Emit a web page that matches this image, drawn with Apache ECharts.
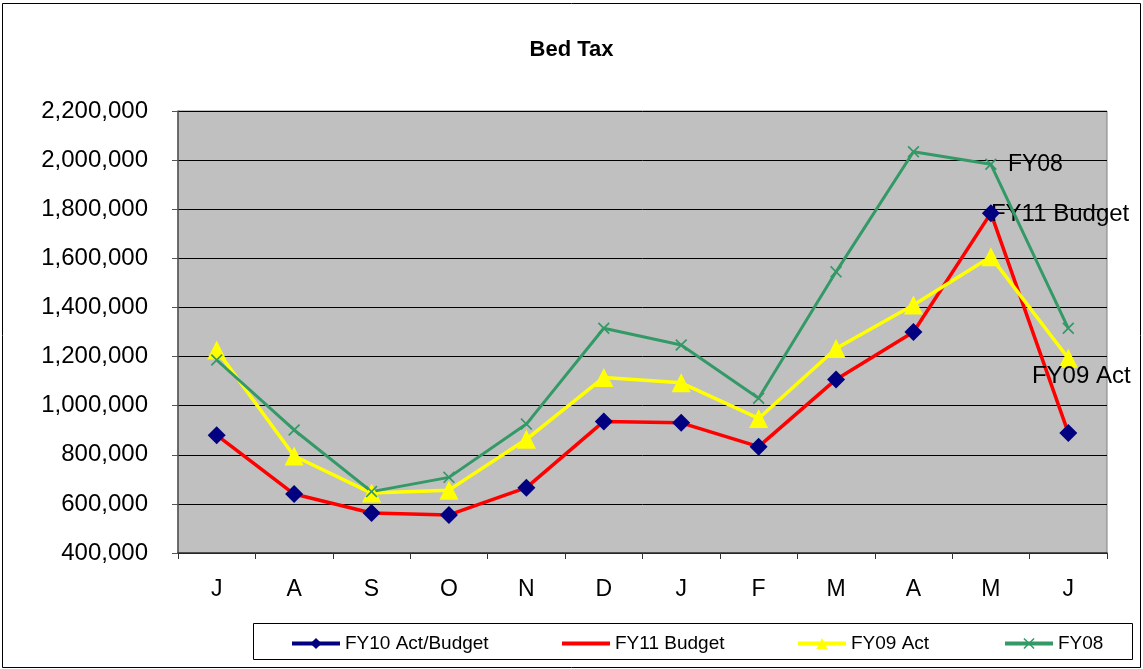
<!DOCTYPE html>
<html>
<head>
<meta charset="utf-8">
<script src="https://cdn.jsdelivr.net/npm/echarts@6/dist/echarts.min.js"></script>
<style>
  html, body { margin: 0; padding: 0; background: #fff; }
  #chart { width: 1143px; height: 669px; }
</style>
</head>
<body>
<div id="chart"></div>
<script>
'use strict';

// month labels, July through June
var months = ['J', 'A', 'S', 'O', 'N', 'D', 'J', 'F', 'M', 'A', 'M', 'J'];

var fy10Act = [880000, 640000, 563000, 555000, 666000, 936000, 930000, 833000, 1107000, 1300000, 1784000, 889000];
var fy11Budget = [880000, 640000, 563000, 555000, 666000, 936000, 930000, 833000, 1107000, 1300000, 1784000, 889000];
var fy09Act = [1227000, 795000, 644000, 656000, 863000, 1115000, 1093000, 948000, 1233000, 1410000, 1606000, 1193000];
var fy08 = [1186000, 901000, 650000, 708000, 925000, 1315000, 1247000, 1030000, 1545000, 2034000, 1983000, 1315000];

var yTicks = { min: 400000, max: 2200000, step: 200000 };

var FONT = '"Liberation Sans", Arial, sans-serif';
var crossPath = 'path://M0,1L1,0L5,4L9,0L10,1L6,5L10,9L9,10L5,6L1,10L0,9L4,5Z';

// put the series name as a label on one point only
function withLabel(values, idx, label) {
  return values.map(function (v, i) {
    if (i !== idx) return v;
    return { value: v, label: label };
  });
}

var myChart = echarts.init(document.getElementById('chart'));

function legendAt(name, left, extra) {
  var l = {
    data: [Object.assign({ name: name }, extra || {})],
    left: left,
    top: 634,
    padding: 0,
    itemWidth: 48,
    itemHeight: 14,
    selectedMode: false,
    textStyle: { fontFamily: FONT, fontSize: 19, color: '#000' }
  };
  return l;
}

var option = {
  backgroundColor: '#fff',
  animation: false,
  title: {
    text: 'Bed Tax',
    left: 'center',
    top: 34,
    textStyle: { fontFamily: FONT, fontSize: 22, fontWeight: 'bold', color: '#000' }
  },
  graphic: [
    { type: 'rect', shape: { x: 2.5, y: 3.5, width: 1138, height: 664 },
      style: { fill: 'none', stroke: '#000', lineWidth: 1 }, z: -1 },
    { type: 'rect', shape: { x: 253.5, y: 623.5, width: 879, height: 36 },
      style: { fill: 'none', stroke: '#000', lineWidth: 1 }, z: -1 }
  ],
  legend: [
    legendAt('FY10 Act/Budget', 290, { lineStyle: { color: '#000080', width: 4, opacity: 1 } }),
    legendAt('FY11 Budget', 562, { icon: 'path://M0,0L48,0L48,4L0,4Z', itemStyle: { color: '#ff0000' } }),
    legendAt('FY09 Act', 796, { lineStyle: { width: 4 } }),
    legendAt('FY08', 1003, { lineStyle: { width: 4 } })
  ],
  grid: {
    left: 178, right: 36, top: 111, bottom: 116,
    show: true,
    backgroundColor: '#c0c0c0',
    borderColor: '#808080',
    borderWidth: 1
  },
  xAxis: {
    type: 'category',
    data: months,
    boundaryGap: true,
    axisLine: { lineStyle: { color: '#333', width: 1.5 } },
    axisTick: { show: true, alignWithLabel: false, length: 6, lineStyle: { color: '#333' } },
    axisLabel: { fontFamily: FONT, fontSize: 23, color: '#000', margin: 25 }
  },
  yAxis: {
    type: 'value',
    min: yTicks.min,
    max: yTicks.max,
    interval: yTicks.step,
    axisLine: { show: true, lineStyle: { color: '#555', width: 1.5 } },
    axisTick: { show: true, length: 6, lineStyle: { color: '#555' } },
    splitLine: { lineStyle: { color: '#000', width: 1 } },
    axisLabel: {
      fontFamily: FONT, fontSize: 24, color: '#000', margin: 30,
      formatter: function (v) { return v.toLocaleString('en-US'); }
    }
  },
  series: [
    {
      name: 'FY11 Budget',
      type: 'line',
      z: 2,
      data: withLabel(fy11Budget, 10, {
        show: true, position: 'right', distance: 0, offset: [0, 1], formatter: '{a}',
        fontFamily: FONT, fontSize: 24, color: '#000'
      }),
      symbol: 'circle',
      symbolSize: 0.1,
      itemStyle: { color: '#ff0000' },
      lineStyle: { color: '#ff0000', width: 3.5 }
    },
    {
      name: 'FY10 Act/Budget',
      type: 'line',
      z: 4,
      data: fy10Act,
      symbol: 'diamond',
      symbolSize: 18,
      itemStyle: { color: '#000080' },
      lineStyle: { color: '#000080', width: 3, opacity: 0 }
    },
    {
      name: 'FY09 Act',
      type: 'line',
      z: 3,
      data: withLabel(fy09Act, 11, {
        show: true, position: 'bottom', distance: 0, offset: [13, -3], formatter: '{a}',
        fontFamily: FONT, fontSize: 24, color: '#000'
      }),
      symbol: 'triangle',
      symbolSize: 19,
      itemStyle: { color: '#ffff00' },
      lineStyle: { color: '#ffff00', width: 3.5 }
    },
    {
      name: 'FY08',
      type: 'line',
      z: 3,
      data: withLabel(fy08, 10, {
        show: true, position: 'right', distance: 11, formatter: '{a}',
        fontFamily: FONT, fontSize: 23, color: '#000'
      }),
      symbol: crossPath,
      symbolSize: 12,
      itemStyle: { color: '#339966' },
      lineStyle: { color: '#339966', width: 3 }
    }
  ]
};

myChart.setOption(option);

window.addEventListener('resize', function () {
  myChart.resize();
});
</script>
</body>
</html>
